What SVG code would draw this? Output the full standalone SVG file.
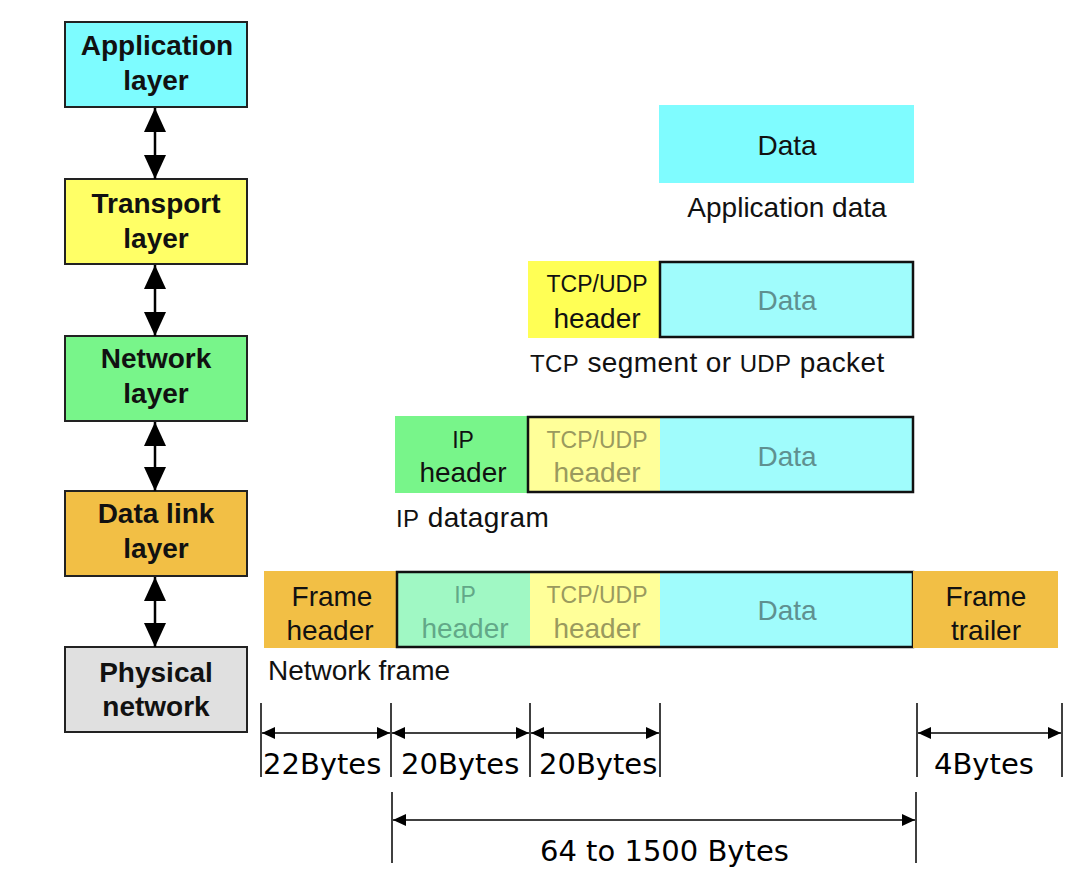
<svg xmlns="http://www.w3.org/2000/svg" width="1088" height="878" viewBox="0 0 1088 878">
<style>
.lb{font-family:"Liberation Sans",Arial,sans-serif;font-weight:bold;font-size:28px;fill:#111;text-anchor:middle}
.t{font-family:"Liberation Sans",Arial,sans-serif;font-size:28px;fill:#111;text-anchor:middle}
.tl{font-family:"Liberation Sans",Arial,sans-serif;font-size:28px;fill:#111}
.sm{font-size:23px}
.sc{font-size:24px}
.fd{fill:#5f9090}
.fy{fill:#9a9a5e}
.fg{fill:#62a888}
.dim{font-family:"DejaVu Sans",Verdana,sans-serif;font-size:29px;fill:#000}
.box{stroke:#222;stroke-width:2}
.tick{stroke:#000;stroke-width:1.5}
.dl{stroke:#000;stroke-width:1.5;fill:none}
</style>
<defs>
<marker id="ah" viewBox="0 0 13 12" refX="13" refY="6" markerWidth="13" markerHeight="12" markerUnits="userSpaceOnUse" orient="auto-start-reverse">
<path d="M0,0 L13,6 L0,12 Z" fill="#000"/>
</marker>
<marker id="bh" viewBox="0 0 24 22" refX="24" refY="11" markerWidth="24" markerHeight="22" markerUnits="userSpaceOnUse" orient="auto-start-reverse">
<path d="M0,0 L24,11 L0,22 Z" fill="#000"/>
</marker>
</defs>
<rect width="1088" height="878" fill="#fff"/>

<g id="app-layer"><rect class="box" x="65" y="22" width="182" height="85" fill="#7dfcff"/><text class="lb" x="157" y="55">Application</text><text class="lb" x="156" y="90">layer</text></g>
<g id="transport-layer"><rect class="box" x="65" y="179" width="182" height="85" fill="#ffff66"/><text class="lb" x="156" y="213">Transport</text><text class="lb" x="156" y="248">layer</text></g>
<g id="network-layer"><rect class="box" x="65" y="336" width="182" height="85" fill="#78f58a"/><text class="lb" x="156" y="368">Network</text><text class="lb" x="156" y="403">layer</text></g>
<g id="datalink-layer"><rect class="box" x="65" y="491" width="182" height="85" fill="#f2bf45"/><text class="lb" x="156" y="523">Data link</text><text class="lb" x="156" y="558">layer</text></g>
<g id="physical-layer"><rect class="box" x="65" y="647" width="182" height="85" fill="#e0e0e0"/><text class="lb" x="156" y="682">Physical</text><text class="lb" x="156" y="716">network</text></g>

<g id="connectors" stroke="#000" stroke-width="2.5">
<line x1="155" y1="108" x2="155" y2="179" marker-start="url(#bh)" marker-end="url(#bh)"/>
<line x1="155" y1="265" x2="155" y2="336" marker-start="url(#bh)" marker-end="url(#bh)"/>
<line x1="155" y1="422" x2="155" y2="491" marker-start="url(#bh)" marker-end="url(#bh)"/>
<line x1="155" y1="577" x2="155" y2="647" marker-start="url(#bh)" marker-end="url(#bh)"/>
</g>

<g id="app-data">
<rect x="659" y="105" width="255" height="78" fill="#7ffcff"/>
<text class="t" x="787" y="155">Data</text>
<text class="t" x="787" y="217">Application data</text>
</g>

<g id="tcp-segment">
<rect x="528" y="261" width="132" height="77" fill="#ffff55"/>
<rect x="660" y="262" width="253" height="75" fill="#a0fcfc" stroke="#111" stroke-width="2.5"/>
<text class="t sm" x="597" y="292">TCP/UDP</text>
<text class="t" x="597" y="328">header</text>
<text class="t fd" x="787" y="310">Data</text>
<text class="tl" x="530" y="372" letter-spacing="0.4"><tspan class="sc">TCP</tspan> segment or <tspan class="sc">UDP</tspan> packet</text>
</g>

<g id="ip-datagram">
<rect x="395" y="416" width="133" height="77" fill="#78f58a"/>
<rect x="528" y="417" width="132" height="75" fill="#ffff99"/>
<rect x="660" y="417" width="253" height="75" fill="#a0fcfc"/>
<rect x="528" y="417" width="385" height="75" fill="none" stroke="#111" stroke-width="2.5"/>
<text class="t sm" x="463" y="448">IP</text>
<text class="t" x="463" y="482">header</text>
<text class="t sm fy" x="597" y="448">TCP/UDP</text>
<text class="t fy" x="597" y="482">header</text>
<text class="t fd" x="787" y="466">Data</text>
<text class="tl" x="396" y="527" letter-spacing="0.4"><tspan class="sc">IP</tspan> datagram</text>
</g>

<g id="network-frame">
<rect x="264" y="571" width="133" height="77" fill="#f2bf45"/>
<rect x="397" y="572" width="133" height="75" fill="#a0f8c4"/>
<rect x="530" y="572" width="130" height="75" fill="#ffff99"/>
<rect x="660" y="572" width="253" height="75" fill="#a0fcfc"/>
<rect x="397" y="572" width="516" height="75" fill="none" stroke="#111" stroke-width="2.5"/>
<rect x="913" y="571" width="145" height="77" fill="#f2bf45"/>
<text class="t" x="332" y="606">Frame</text>
<text class="t" x="330" y="640">header</text>
<text class="t sm fg" x="465" y="603">IP</text>
<text class="t fg" x="465" y="638">header</text>
<text class="t sm fy" x="597" y="603">TCP/UDP</text>
<text class="t fy" x="597" y="638">header</text>
<text class="t fd" x="787" y="620">Data</text>
<text class="t" x="986" y="606">Frame</text>
<text class="t" x="986" y="640">trailer</text>
<text class="tl" x="268" y="680">Network frame</text>
</g>

<g id="dimensions">
<line class="tick" x1="261" y1="703" x2="261" y2="777"/>
<line class="tick" x1="391" y1="703" x2="391" y2="777"/>
<line class="tick" x1="530" y1="703" x2="530" y2="777"/>
<line class="tick" x1="660" y1="703" x2="660" y2="777"/>
<line class="tick" x1="917" y1="703" x2="917" y2="777"/>
<line class="tick" x1="1062" y1="703" x2="1062" y2="777"/>
<line class="tick" x1="392" y1="792" x2="392" y2="863"/>
<line class="tick" x1="916" y1="792" x2="916" y2="863"/>
<line class="dl" x1="262" y1="733" x2="390" y2="733" marker-start="url(#ah)" marker-end="url(#ah)"/>
<line class="dl" x1="392" y1="733" x2="529" y2="733" marker-start="url(#ah)" marker-end="url(#ah)"/>
<line class="dl" x1="531" y1="733" x2="659" y2="733" marker-start="url(#ah)" marker-end="url(#ah)"/>
<line class="dl" x1="918" y1="733" x2="1061" y2="733" marker-start="url(#ah)" marker-end="url(#ah)"/>
<line class="dl" x1="393" y1="820" x2="915" y2="820" marker-start="url(#ah)" marker-end="url(#ah)"/>
<text class="dim" x="263" y="774">22Bytes</text>
<text class="dim" x="401" y="774">20Bytes</text>
<text class="dim" x="539" y="774">20Bytes</text>
<text class="dim" x="934" y="774">4Bytes</text>
<text class="dim" x="540" y="861">64 to 1500 Bytes</text>
</g>
</svg>
